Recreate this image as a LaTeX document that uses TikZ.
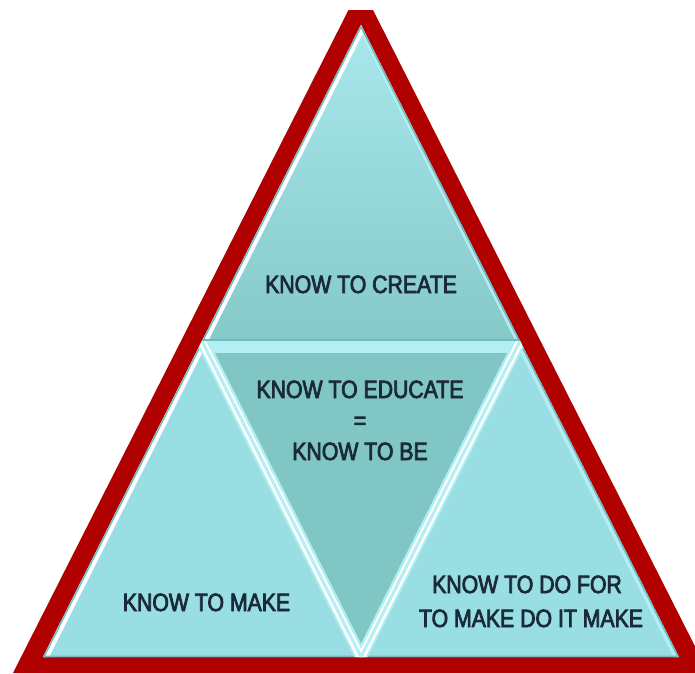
\documentclass[tikz,border=0pt]{standalone}
\usepackage{fontspec}
\setmainfont{Liberation Sans}[FakeStretch=0.85, FakeBold=3]
\definecolor{redb}{HTML}{B00000}
\definecolor{topt}{HTML}{A8E8EC}
\definecolor{topb}{HTML}{86C9C9}
\definecolor{midc}{HTML}{80C6C4}
\definecolor{lowc}{HTML}{98DEE2}
\definecolor{bev}{HTML}{B2EEF2}
\definecolor{edgec}{HTML}{70BCC0}
\definecolor{txt}{HTML}{1B2A3A}
\begin{document}
\begin{tikzpicture}[x=1pt,y=-1pt,
  lbl/.style={anchor=base, text=txt, font=\fontsize{25}{30}\selectfont, inner sep=0pt}]
\useasboundingbox (0,0) rectangle (695,673);
\clip (0,0) rectangle (695,673);
\fill[redb] (348.5,10) -- (373,10) -- (708.5,673) -- (13,673) -- cycle;
\coordinate (A) at (361,25);
\coordinate (P) at (202,341);
\coordinate (Q) at (520,341);
\coordinate (B) at (43,657);
\coordinate (C) at (361,657);
\coordinate (D) at (679,657);
% top triangle
\begin{scope}
\clip (A)--(P)--(Q)--cycle;
\shade[top color=topt, bottom color=topb] (202,25) rectangle (520,341);
\draw[line width=8, bev] (A)--(Q);
\draw[line width=11, white] (A)--(P);
\draw[line width=3, edgec] (A)--(P) (A)--(Q);
\draw[line width=4, edgec] (P)--(Q);
\end{scope}
% middle inverted triangle
\begin{scope}
\clip (P)--(Q)--(C)--cycle;
\fill[midc] (P)--(Q)--(C)--cycle;
\draw[line width=24, bev] (P)--(Q);
\draw[line width=12, bev] (P)--(C) (Q)--(C);
\draw[line width=7, white] (P)--(C) (Q)--(C);
\draw[line width=3, bev] (P)--(C) (Q)--(C);
\end{scope}
% left triangle
\begin{scope}
\clip (P)--(B)--(C)--cycle;
\fill[lowc] (P)--(B)--(C)--cycle;
\draw[line width=11, white] (P)--(B);
\draw[line width=3, edgec] (P)--(B) (B)--(C);
\draw[line width=12, bev] (P)--(C);
\draw[line width=8, white] (P)--(C);
\draw[line width=3, bev] (P)--(C);
\end{scope}
% right triangle
\begin{scope}
\clip (Q)--(C)--(D)--cycle;
\fill[lowc] (Q)--(C)--(D)--cycle;
\draw[line width=10, bev] (Q)--(D);
\draw[line width=3, edgec] (Q)--(D) (C)--(D);
\draw[line width=12, bev] (Q)--(C);
\draw[line width=8, white] (Q)--(C);
\draw[line width=3, bev] (Q)--(C);
\end{scope}
% labels
\node[lbl] (create) at (361,293) {KNOW TO CREATE};
\node[lbl] (edu1) at (360,398) {KNOW TO EDUCATE};
\node[lbl] (edu2) at (360,429) {=};
\node[lbl] (edu3) at (360,460) {KNOW TO BE};
\node[lbl] (make) at (206.5,611) {KNOW TO MAKE};
\node[lbl] (dofor1) at (527,593) {KNOW TO DO FOR};
\node[lbl] (dofor2) at (531,627) {TO MAKE DO IT MAKE};
\end{tikzpicture}
\end{document}
